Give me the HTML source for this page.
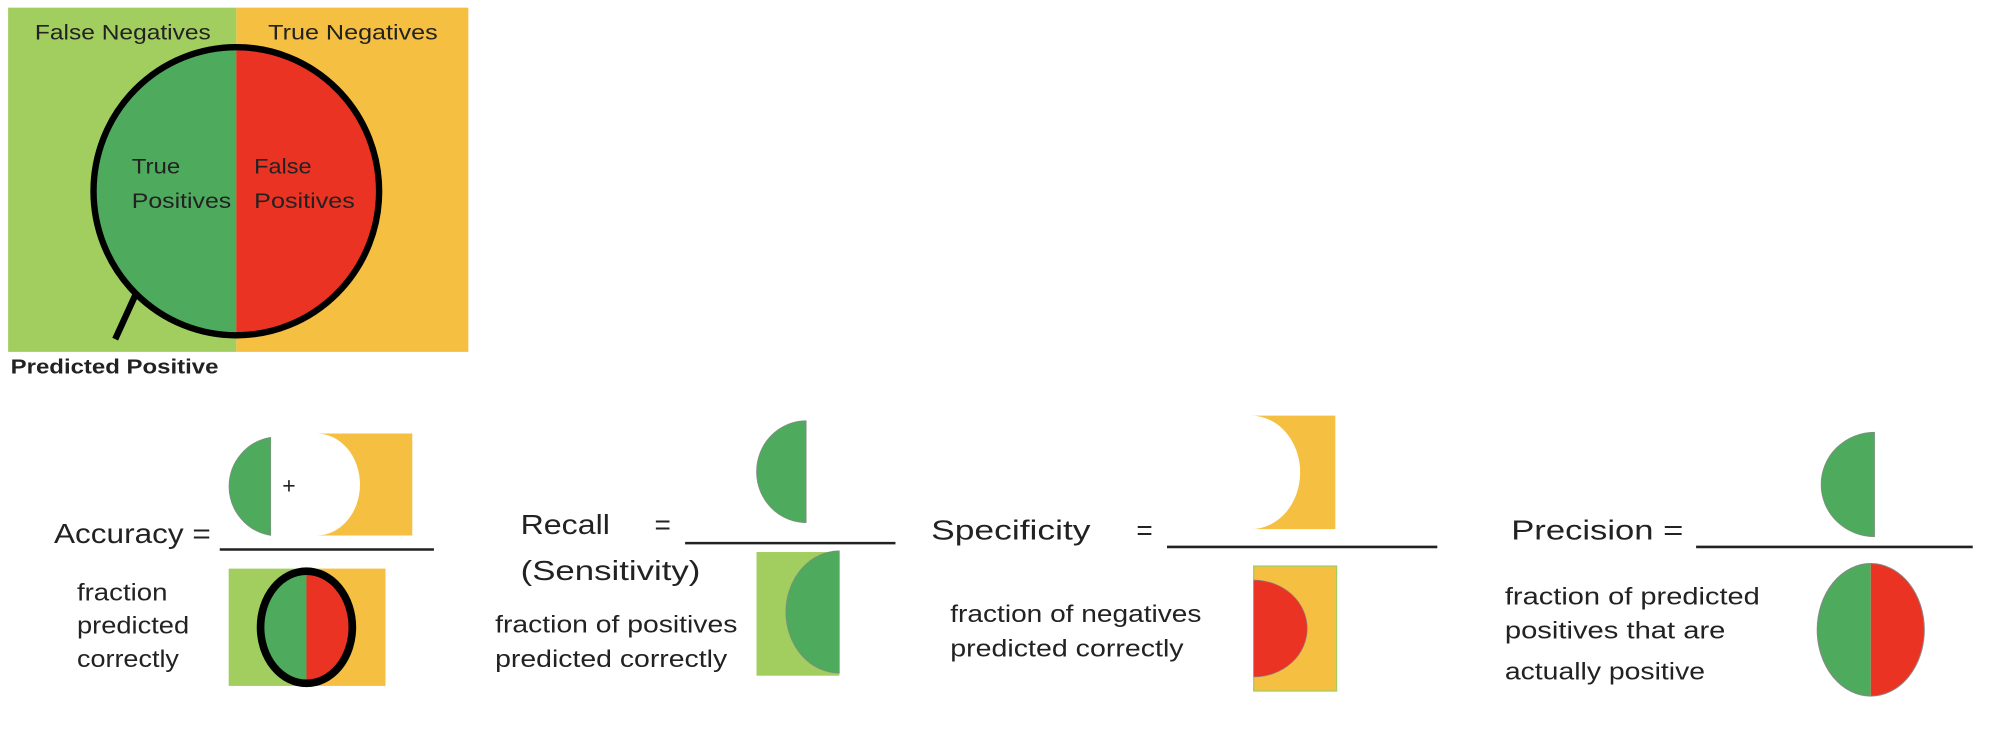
<!DOCTYPE html>
<html><head><meta charset="utf-8"><style>html,body{margin:0;padding:0;background:#fff}svg{display:block}</style></head>
<body>
<svg width="2000" height="742" viewBox="0 0 1568 582" xmlns="http://www.w3.org/2000/svg" font-family="Liberation Sans, sans-serif">
<rect x="6" y="6" width="179" height="270" fill="#a2cd5f"/>
<rect x="185" y="6" width="182" height="270" fill="#f5bf41"/>
<path d="M185,37 A112,113 0 0 0 185,263 Z" fill="#4eaa5c"/>
<path d="M185,37 A112,113 0 0 1 185,263 Z" fill="#ea3323"/>
<ellipse cx="185" cy="150" rx="112" ry="113" fill="none" stroke="#000" stroke-width="5"/>
<line x1="106" y1="231" x2="90" y2="266" stroke="#000" stroke-width="5"/>
<g font-size="17" fill="#222" lengthAdjust="spacingAndGlyphs">
<text x="27" y="31" textLength="138" lengthAdjust="spacingAndGlyphs">False Negatives</text>
<text x="210" y="31" textLength="133" lengthAdjust="spacingAndGlyphs">True Negatives</text>
<text x="103" y="136" textLength="38" lengthAdjust="spacingAndGlyphs">True</text><text x="103" y="163" textLength="78" lengthAdjust="spacingAndGlyphs">Positives</text>
<text x="199" y="136" textLength="45" lengthAdjust="spacingAndGlyphs">False</text><text x="199" y="163" textLength="79" lengthAdjust="spacingAndGlyphs">Positives</text>
</g>
<text x="8" y="293" font-size="16" font-weight="bold" fill="#222" textLength="163" lengthAdjust="spacingAndGlyphs">Predicted Positive</text>

<g font-size="22" fill="#222">
<text x="42" y="426" textLength="123" lengthAdjust="spacingAndGlyphs">Accuracy =</text>
<text x="408" y="419" textLength="70" lengthAdjust="spacingAndGlyphs">Recall</text><text x="513" y="419">=</text>
<text x="408" y="455" textLength="141" lengthAdjust="spacingAndGlyphs">(Sensitivity)</text>
<text x="730" y="423" textLength="125" lengthAdjust="spacingAndGlyphs">Specificity</text><text x="891" y="423">=</text>
<text x="1185" y="423" textLength="135" lengthAdjust="spacingAndGlyphs">Precision =</text>
</g>
<g stroke="#222" stroke-width="2">
<line x1="172" y1="431" x2="340" y2="431"/>
<line x1="537" y1="426" x2="702" y2="426"/>
<line x1="915" y1="429" x2="1127" y2="429"/>
<line x1="1330" y1="429" x2="1547" y2="429"/>
</g>
<g font-size="19" fill="#222">
<text x="60" y="471" textLength="71" lengthAdjust="spacingAndGlyphs">fraction</text><text x="60" y="497" textLength="88" lengthAdjust="spacingAndGlyphs">predicted</text><text x="60" y="523" textLength="80" lengthAdjust="spacingAndGlyphs">correctly</text>
<text x="388" y="496" textLength="190" lengthAdjust="spacingAndGlyphs">fraction of positives</text><text x="388" y="523" textLength="182" lengthAdjust="spacingAndGlyphs">predicted correctly</text>
<text x="745" y="488" textLength="197" lengthAdjust="spacingAndGlyphs">fraction of negatives</text><text x="745" y="515" textLength="183" lengthAdjust="spacingAndGlyphs">predicted correctly</text>
<text x="1180" y="474" textLength="200" lengthAdjust="spacingAndGlyphs">fraction of predicted</text><text x="1180" y="501" textLength="173" lengthAdjust="spacingAndGlyphs">positives that are</text><text x="1180" y="533" textLength="157" lengthAdjust="spacingAndGlyphs">actually positive</text>
</g>

<path d="M212,343 A39,39 0 0 0 212,420 Z" fill="#4eaa5c" stroke="#888" stroke-width="0.5"/>
<text x="221" y="387" font-size="18" fill="#222">+</text>
<path d="M248,340 H323 V420 H248 A34,40 0 0 0 248,340 Z" fill="#f5bf41"/>
<rect x="179" y="446" width="61" height="92" fill="#a2cd5f"/>
<rect x="240" y="446" width="62" height="92" fill="#f5bf41"/>
<path d="M240,448 A37,44 0 0 0 240,536 Z" fill="#4eaa5c"/>
<path d="M240,448 A37,44 0 0 1 240,536 Z" fill="#ea3323"/>
<ellipse cx="240" cy="492" rx="36" ry="44" fill="none" stroke="#000" stroke-width="6"/>

<path d="M632,330 A39,40 0 0 0 632,410 Z" fill="#4eaa5c" stroke="#888" stroke-width="0.5"/>
<rect x="593" y="433" width="65" height="97" fill="#a2cd5f"/>
<path d="M658,432 A42,48 0 0 0 658,528 Z" fill="#4eaa5c" stroke="#888" stroke-width="0.5"/>

<path d="M981,326 H1047 V415 H981 A38,44 0 0 0 981,326 Z" fill="#f5bf41"/>
<rect x="983" y="444" width="65" height="98" fill="#f5bf41" stroke="#a2cd5f" stroke-width="1"/>
<path d="M983,455 A42,38 0 0 1 983,531 Z" fill="#ea3323" stroke="#888" stroke-width="0.5"/>

<path d="M1470,339 A42,41 0 0 0 1470,421 Z" fill="#4eaa5c" stroke="#888" stroke-width="0.5"/>
<path d="M1467,442 A42,52 0 0 0 1467,546 Z" fill="#4eaa5c"/>
<path d="M1467,442 A42,52 0 0 1 1467,546 Z" fill="#ea3323"/>
<ellipse cx="1467" cy="494" rx="42" ry="52" fill="none" stroke="#888" stroke-width="0.8"/>
</svg>
</body></html>
